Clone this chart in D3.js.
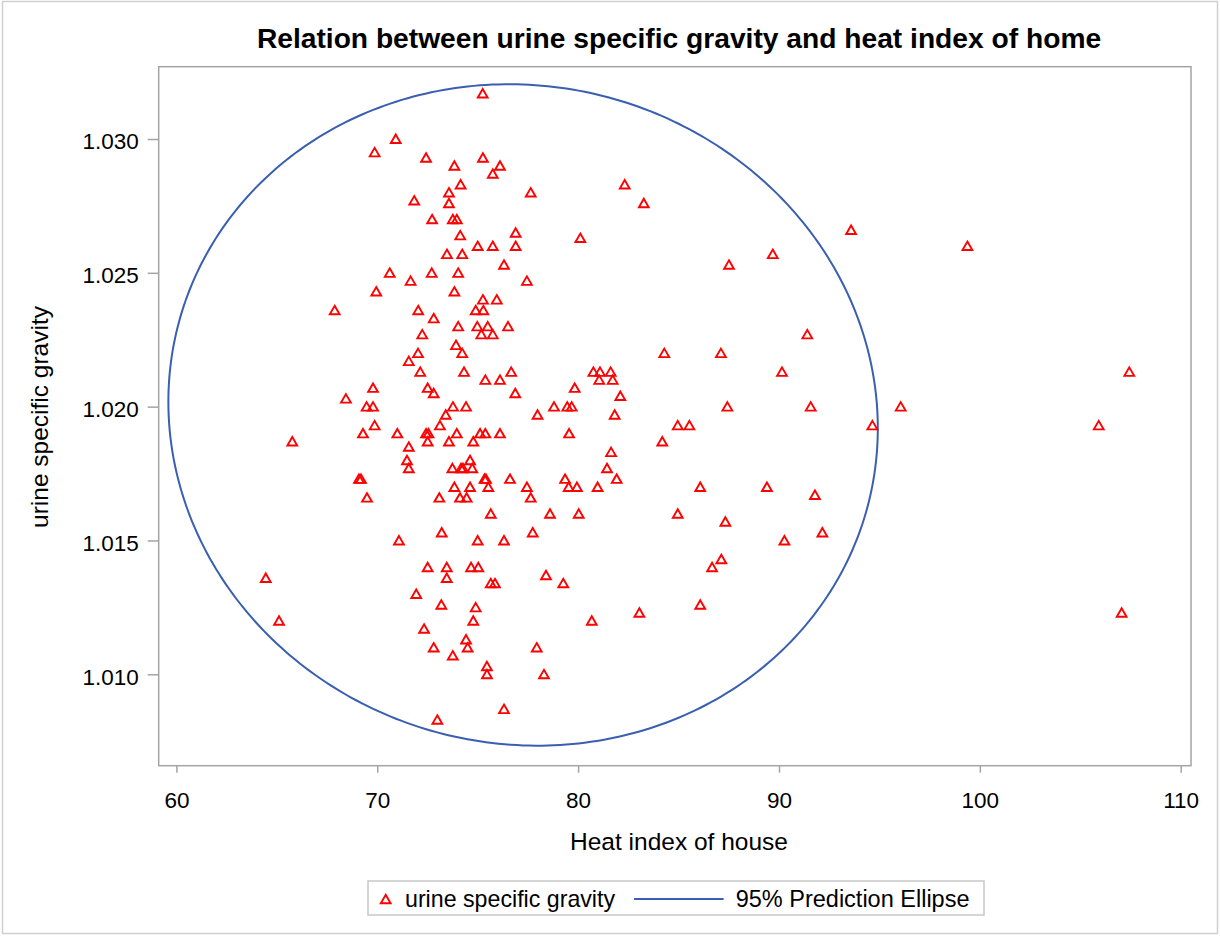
<!DOCTYPE html>
<html>
<head>
<meta charset="utf-8">
<script src="https://cdn.jsdelivr.net/npm/d3@7"></script>
<style>
  html, body { margin: 0; padding: 0; background: #ffffff; }
  svg { display: block; }
  text { font-family: "Liberation Sans", Arial, sans-serif; fill: #000; }
</style>
</head>
<body>
<svg id="chart" width="1220" height="936"></svg>
<script>
// ---------------- data ----------------
const heatIndex = [
  75.25, 70.92, 69.87, 72.43, 75.26, 73.84, 76.11, 75.75, 74.15, 77.64,
  73.57, 71.84, 73.57, 72.73, 73.76, 73.96, 74.13, 76.89, 75.00, 75.75,
  76.89, 73.47, 74.23, 76.31, 70.62, 72.71, 74.03, 71.66, 77.45, 69.95,
  73.84, 75.26, 75.95, 67.88, 72.04, 74.90, 75.28, 72.81, 74.03, 74.98,
  75.50, 76.51, 72.24, 75.18, 75.75, 73.92, 72.03, 74.23, 71.57, 72.14,
  74.32, 76.67, 75.38, 76.11, 69.79, 68.44, 72.51, 72.81, 76.87, 69.47,
  69.79, 73.77, 74.42,
  73.41, 73.12, 69.87, 69.29, 71.00, 72.43, 72.55, 72.51, 73.57, 73.96,
  74.78, 75.12, 75.38, 76.11, 71.57, 71.48, 71.57, 74.62, 73.74, 74.17,
  74.27, 74.73, 69.09, 69.19, 75.41, 75.34, 75.53, 76.61, 77.45, 77.64,
  73.84, 74.62, 69.49, 73.09, 74.12, 74.45, 75.65, 73.21, 77.74, 71.08,
  75.00, 76.31, 72.51, 73.46, 73.46, 74.67, 75.03, 75.65, 75.86, 71.94,
  73.19, 74.90, 74.78, 72.33, 74.42, 74.50, 72.81, 73.76, 77.94, 75.46,
  75.46, 76.31, 72.99,
  82.32, 83.27, 80.11, 87.51, 89.69, 84.29, 87.11, 80.76, 81.09, 81.62,
  81.05, 81.72, 79.83, 82.10, 78.80, 79.46, 79.68, 87.43,
  77.98, 81.82, 79.55, 84.96, 85.54, 84.19, 81.64, 81.44, 81.92, 79.35,
  79.53, 79.94, 80.97, 86.08, 89.40, 78.60, 80.03, 84.96, 87.33, 87.13,
  86.67, 78.40, 79.26, 86.08, 83.05, 80.68, 78.30,
  93.59, 99.38, 91.41, 90.15, 91.58, 96.06, 94.65, 107.44, 105.92, 91.79,
  92.16, 90.27, 107.06,
  65.77, 64.45, 65.11
];
const specificGravity = [
  1.0317, 1.0300, 1.0295, 1.0293, 1.0293, 1.0290, 1.0290, 1.0287, 1.0283, 1.0280,
  1.0280, 1.0277, 1.0276, 1.0270, 1.0270, 1.0270, 1.0264, 1.0265, 1.0260, 1.0260,
  1.0260, 1.0257, 1.0257, 1.0253, 1.0250, 1.0250, 1.0250, 1.0247, 1.0247, 1.0243,
  1.0243, 1.0240, 1.0240, 1.0236, 1.0236, 1.0236, 1.0236, 1.0233, 1.0230, 1.0230,
  1.0230, 1.0230, 1.0227, 1.0227, 1.0227, 1.0223, 1.0220, 1.0220, 1.0217, 1.0213,
  1.0213, 1.0213, 1.0210, 1.0210, 1.0207, 1.0203, 1.0207, 1.0205, 1.0205, 1.0200,
  1.0200, 1.0200, 1.0200,
  1.0197, 1.0193, 1.0193, 1.0190, 1.0190, 1.0190, 1.0190, 1.0187, 1.0187, 1.0190,
  1.0187, 1.0190, 1.0190, 1.0190, 1.0185, 1.0180, 1.0177, 1.0180, 1.0177, 1.0177,
  1.0177, 1.0177, 1.0173, 1.0173, 1.0173, 1.0173, 1.0170, 1.0173, 1.0170, 1.0166,
  1.0170, 1.0170, 1.0166, 1.0166, 1.0166, 1.0166, 1.0160, 1.0153, 1.0153, 1.0150,
  1.0150, 1.0150, 1.0140, 1.0140, 1.0136, 1.0140, 1.0140, 1.0134, 1.0134, 1.0130,
  1.0126, 1.0125, 1.0120, 1.0117, 1.0113, 1.0110, 1.0110, 1.0107, 1.0110, 1.0103,
  1.0100, 1.0087, 1.0083,
  1.0283, 1.0276, 1.0263, 1.0253, 1.0257, 1.0220, 1.0220, 1.0213, 1.0213, 1.0213,
  1.0210, 1.0210, 1.0207, 1.0204, 1.0200, 1.0200, 1.0200, 1.0200,
  1.0197, 1.0197, 1.0190, 1.0193, 1.0193, 1.0187, 1.0183, 1.0177, 1.0173, 1.0173,
  1.0170, 1.0170, 1.0170, 1.0170, 1.0170, 1.0160, 1.0160, 1.0160, 1.0157, 1.0143,
  1.0140, 1.0137, 1.0134, 1.0126, 1.0123, 1.0120, 1.0100,
  1.0266, 1.0260, 1.0227, 1.0213, 1.0200, 1.0200, 1.0193, 1.0213, 1.0193, 1.0167,
  1.0153, 1.0150, 1.0123,
  1.0187, 1.0136, 1.0120
];

// 95% prediction ellipse (centre, semi-extents along x and y, correlation)
const ellipseCenter = [77.26, 1.01969];
const ellipseExtent = [17.66, 0.012356];
const ellipseCorr = -0.040;

const xTicks = [60, 70, 80, 90, 100, 110];
const yTicks = [1.010, 1.015, 1.020, 1.025, 1.030];

const titleText = "Relation between urine specific gravity and heat index of home";
const xLabel = "Heat index of house";
const yLabel = "urine specific gravity";
const legendMarkerLabel = "urine specific gravity";
const legendLineLabel = "95% Prediction Ellipse";

// ---------------- layout ----------------
const frame = { left: 158.7, right: 1191, top: 66.7, bottom: 765.7 };
const markerColor = "#ff0000";
const ellipseColor = "#3a5fb0";
const frameColor = "#a4a4a4";

const svg = d3.select("#chart");

// outer border
svg.append("rect")
  .attr("x", 2.5).attr("y", 1.5)
  .attr("width", 1215).attr("height", 932)
  .attr("fill", "#fff").attr("stroke", "#d0d0d0").attr("stroke-width", 1.5);

const x = d3.scaleLinear().domain([60, 110]).range([176.4, 1180.7]);
const y = d3.scaleLinear().domain([1.010, 1.030]).range([674.3, 139]);

// title
svg.append("text")
  .attr("x", 679).attr("y", 48.3)
  .attr("text-anchor", "middle")
  .style("font-size", "28.2px").style("font-weight", "bold")
  .text(titleText);

// frame
svg.append("rect")
  .attr("x", frame.left).attr("y", frame.top)
  .attr("width", frame.right - frame.left).attr("height", frame.bottom - frame.top)
  .attr("fill", "none").attr("stroke", frameColor).attr("stroke-width", 1.5);

// x axis
const gx = svg.append("g")
  .attr("transform", `translate(0,${frame.bottom})`)
  .call(d3.axisBottom(x).tickValues(xTicks).tickSize(7).tickFormat(d3.format("d")));
gx.select(".domain").remove();
gx.selectAll(".tick line").attr("stroke", frameColor).attr("stroke-width", 1.5);
gx.selectAll(".tick text")
  .attr("y", 42.6).attr("dy", null)
  .style("font-size", "22.5px").style("font-family", "Liberation Sans, Arial, sans-serif")
  .attr("fill", "#222");

// y axis
const gy = svg.append("g")
  .attr("transform", `translate(${frame.left},0)`)
  .call(d3.axisLeft(y).tickValues(yTicks).tickSize(11).tickPadding(9).tickFormat(d3.format(".3f")));
gy.select(".domain").remove();
gy.selectAll(".tick line").attr("stroke", frameColor).attr("stroke-width", 1.5);
gy.selectAll(".tick text")
  .attr("dy", "0.44em")
  .style("font-size", "22.5px").style("font-family", "Liberation Sans, Arial, sans-serif")
  .attr("fill", "#222");

// axis labels
svg.append("text")
  .attr("x", 679).attr("y", 850)
  .attr("text-anchor", "middle")
  .style("font-size", "24.5px")
  .attr("fill", "#222")
  .text(xLabel);

svg.append("text")
  .attr("transform", `translate(48,417) rotate(-90)`)
  .attr("text-anchor", "middle")
  .style("font-size", "24.5px")
  .attr("fill", "#222")
  .text(yLabel);

// ellipse
const ts = d3.range(0, 361, 1).map(d => d * Math.PI / 180);
const ellipsePts = ts.map(t => [
  ellipseCenter[0] + ellipseExtent[0] * Math.cos(t),
  ellipseCenter[1] + ellipseExtent[1] * (ellipseCorr * Math.cos(t) + Math.sqrt(1 - ellipseCorr * ellipseCorr) * Math.sin(t))
]);
svg.append("path")
  .datum(ellipsePts)
  .attr("d", d3.line().x(d => x(d[0])).y(d => y(d[1])).curve(d3.curveLinearClosed))
  .attr("fill", "none").attr("stroke", ellipseColor).attr("stroke-width", 2);

// markers
const tri = "M0,-4.5L4.9,4L-4.9,4Z";
const pts = heatIndex.map((h, i) => ({ h, g: specificGravity[i] }));
svg.append("g").selectAll("path")
  .data(pts).join("path")
  .attr("transform", d => `translate(${x(d.h)},${y(d.g)})`)
  .attr("d", tri)
  .attr("fill", "none").attr("stroke", markerColor).attr("stroke-width", 1.9);

// legend
const lg = svg.append("g");
lg.append("rect")
  .attr("x", 368).attr("y", 881).attr("width", 616).attr("height", 34)
  .attr("fill", "#fff").attr("stroke", "#c8c8c8").attr("stroke-width", 1.5);
lg.append("path")
  .attr("transform", "translate(385.7,899.3)")
  .attr("d", tri)
  .attr("fill", "none").attr("stroke", markerColor).attr("stroke-width", 1.9);
lg.append("text")
  .attr("x", 405).attr("y", 907)
  .style("font-size", "23.2px").attr("fill", "#222")
  .text(legendMarkerLabel);
lg.append("line")
  .attr("x1", 634).attr("x2", 723.6).attr("y1", 899).attr("y2", 899)
  .attr("stroke", ellipseColor).attr("stroke-width", 2);
lg.append("text")
  .attr("x", 735.7).attr("y", 907)
  .style("font-size", "23.5px").attr("fill", "#222")
  .text(legendLineLabel);
</script>
</body>
</html>
